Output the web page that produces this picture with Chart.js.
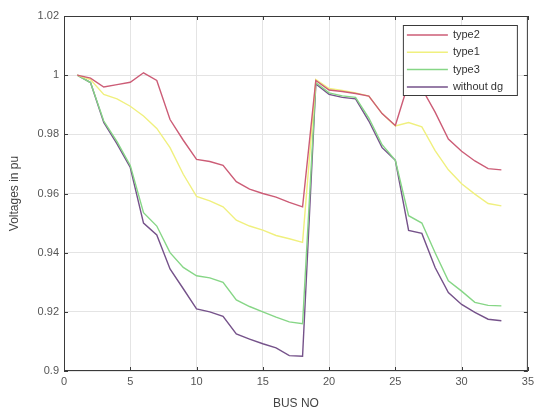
<!DOCTYPE html>
<html>
<head>
<meta charset="utf-8">
<script src="https://cdn.jsdelivr.net/npm/chart.js@4.4.1/dist/chart.umd.min.js"></script>
<style>
    html, body { margin: 0; padding: 0; background: #fff; }
    #wrap { width: 538px; height: 417px; }
</style>
</head>
<body>
<div id="wrap"><canvas id="voltChart" width="538" height="417"></canvas></div>
<script>
// bus numbers (IEEE 33 bus system)
var buses = [1, 2, 3, 4, 5, 6, 7, 8, 9, 10, 11, 12, 13, 14, 15, 16, 17,
    18, 19, 20, 21, 22, 23, 24, 25, 26, 27, 28, 29, 30, 31, 32, 33];

var type2 = [1.000, 0.9990, 0.9960, 0.9968, 0.9976, 1.0008, 0.9982, 0.9850, 0.9780, 0.9715,
    0.9708, 0.9695, 0.9640, 0.9615, 0.9600, 0.9588, 0.9570, 0.9555, 0.9982, 0.9950,
    0.9945, 0.9938, 0.9929, 0.9870, 0.9830, 0.9975, 0.9955, 0.9875, 0.9784, 0.9743,
    0.9710, 0.9684, 0.9680];

var type1 = [1.000, 0.9985, 0.9935, 0.9920, 0.9895, 0.9862, 0.9820, 0.9755, 0.9665, 0.9590,
    0.9575, 0.9555, 0.9510, 0.9490, 0.9476, 0.9458, 0.9447, 0.9435, 0.9985, 0.9955,
    0.9948, 0.9940, 0.9929, 0.9870, 0.9828, 0.9840, 0.9825, 0.9745, 0.9680, 0.9633,
    0.9598, 0.9566, 0.9558];

var type3 = [1.000, 0.9975, 0.9845, 0.9775, 0.9695, 0.9535, 0.9490, 0.9400, 0.9350, 0.9322,
    0.9315, 0.9300, 0.9240, 0.9218, 0.9200, 0.9182, 0.9166, 0.9160, 0.9975, 0.9940,
    0.9930, 0.9925, 0.9855, 0.9765, 0.9712, 0.9525, 0.9500, 0.9400, 0.9305, 0.9270,
    0.9232, 0.9222, 0.9220];

var withoutDg = [1.000, 0.9975, 0.9840, 0.9768, 0.9688, 0.9500, 0.9460, 0.9345, 0.9278, 0.9210,
    0.9200, 0.9185, 0.9125, 0.9108, 0.9092, 0.9078, 0.9052, 0.9050, 0.9970, 0.9935,
    0.9925, 0.9920, 0.9845, 0.9755, 0.9712, 0.9475, 0.9465, 0.9350, 0.9265, 0.9225,
    0.9198, 0.9175, 0.9170];

var seriesNames = ['type2', 'type1', 'type3', 'without dg'];
var seriesColors = ['#cc5c76', '#f0f07e', '#86d686', '#75528a'];

var toPoints = function (values) {
    return values.map(function (v, i) { return { x: buses[i], y: v }; });
};

var allSeries = [type2, type1, type3, withoutDg];
var datasets = allSeries.map(function (values, i) {
    return {
        label: seriesNames[i],
        data: toPoints(values),
        borderColor: seriesColors[i],
        backgroundColor: seriesColors[i],
        borderWidth: 1.4,
        pointRadius: 0,
        tension: 0,
        fill: false
    };
});

var axisColor = '#3a3a3a';
var tickColor = '#555';
var fontFamily = '"Liberation Sans", Arial, sans-serif';

// box round the axes with inward ticks, like the original figure
var boxPlugin = {
    id: 'axesBox',
    afterDatasetsDraw: function (chart) {
        var c = chart.ctx, a = chart.chartArea;
        var xs = chart.scales.x, ys = chart.scales.y;
        c.save();
        c.strokeStyle = axisColor;
        c.lineWidth = 1;
        c.strokeRect(a.left + 0.5, a.top + 0.5, a.right - a.left - 1, a.bottom - a.top - 1);
        c.beginPath();
        xs.ticks.forEach(function (t) {
            var px = Math.round(xs.getPixelForValue(t.value)) + 0.5;
            c.moveTo(px, a.bottom); c.lineTo(px, a.bottom - 4);
            c.moveTo(px, a.top); c.lineTo(px, a.top + 4);
        });
        ys.ticks.forEach(function (t) {
            var py = Math.round(ys.getPixelForValue(t.value)) + 0.5;
            c.moveTo(a.left, py); c.lineTo(a.left + 4, py);
            c.moveTo(a.right, py); c.lineTo(a.right - 4, py);
        });
        c.stroke();

        // legend box in the upper right corner
        var bw = 114, bh = 70;
        var bx = a.right - 11 - bw, by = a.top + 9;
        c.fillStyle = '#fff';
        c.fillRect(bx, by, bw, bh);
        c.strokeStyle = axisColor;
        c.strokeRect(bx + 0.5, by + 0.5, bw, bh);
        c.font = '11px ' + fontFamily;
        c.textBaseline = 'middle';
        chart.data.datasets.forEach(function (ds, i) {
            var ry = by + 10 + i * 17.3;
            c.strokeStyle = ds.borderColor;
            c.lineWidth = 1.5;
            c.beginPath();
            c.moveTo(bx + 4, ry); c.lineTo(bx + 45, ry);
            c.stroke();
            c.fillStyle = '#333';
            c.fillText(ds.label, bx + 50, ry);
        });
        c.restore();
    }
};

var config = {
    type: 'line',
    data: { datasets: datasets },
    options: {
        responsive: false,
        animation: false,
        layout: { padding: { left: 7, right: 8, top: 16, bottom: 6 } },
        plugins: {
            legend: { display: false },
            tooltip: { enabled: false }
        },
        scales: {
            x: {
                type: 'linear',
                min: 0,
                max: 35,
                ticks: {
                    stepSize: 5,
                    color: tickColor,
                    font: { family: fontFamily, size: 11 },
                    padding: 4,
                    maxRotation: 0
                },
                grid: { color: '#e4e4e4', tickLength: 0 },
                border: { display: false },
                title: {
                    display: true,
                    text: 'BUS NO',
                    color: '#444',
                    font: { family: fontFamily, size: 12 },
                    padding: { top: 2, bottom: 0 }
                },
                afterFit: function (scale) { scale.height = 40; }
            },
            y: {
                min: 0.9,
                max: 1.02,
                ticks: {
                    stepSize: 0.02,
                    color: tickColor,
                    font: { family: fontFamily, size: 11 },
                    padding: 5,
                    callback: function (v) { return String(Number(v.toFixed(2))); }
                },
                grid: { color: '#e4e4e4', tickLength: 0 },
                border: { display: false },
                title: {
                    display: true,
                    text: 'Voltages in pu',
                    color: '#444',
                    font: { family: fontFamily, size: 12 },
                    padding: { top: 0, bottom: 4 }
                },
                afterFit: function (scale) { scale.width = 57; }
            }
        }
    },
    plugins: [boxPlugin]
};

var ctx = document.getElementById('voltChart').getContext('2d');
window.voltChart = new Chart(ctx, config);
</script>
</body>
</html>
